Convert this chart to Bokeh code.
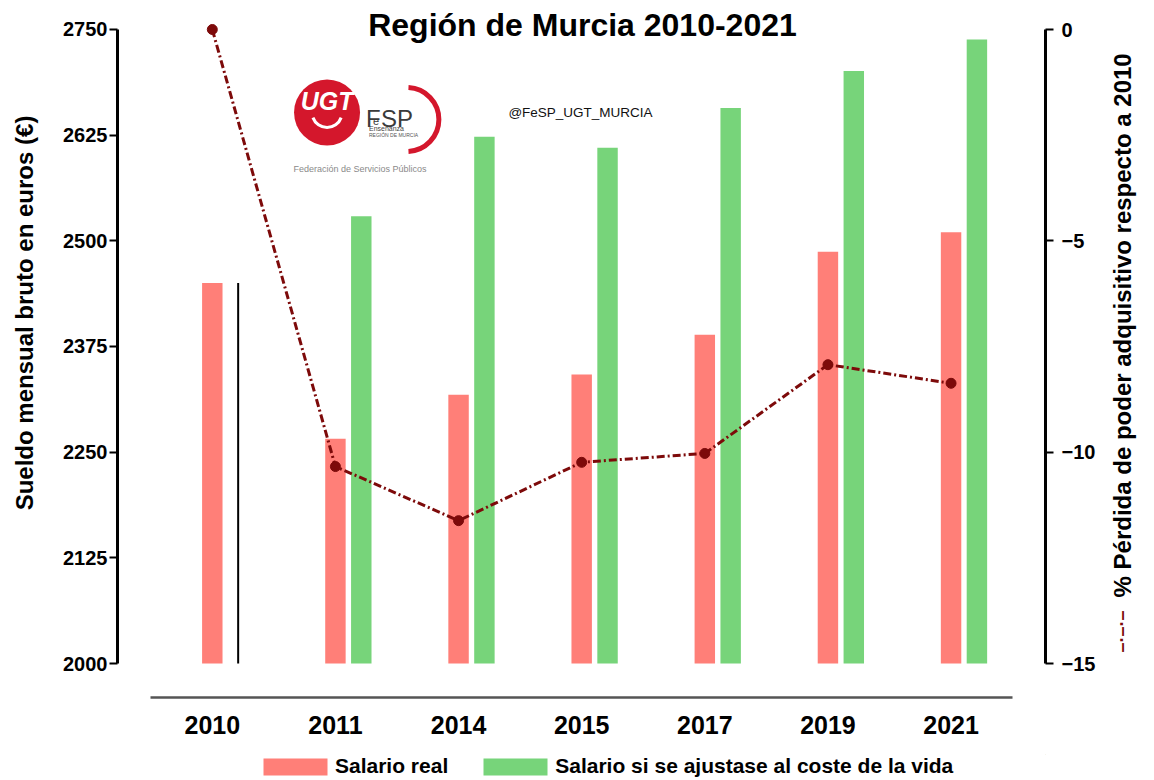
import math
from bokeh.plotting import figure
from bokeh.layouts import column
from bokeh.models import Range1d, LinearAxis, FixedTicker, Legend, LegendItem, Label
from bokeh.embed import file_html
from bokeh.resources import INLINE

# ---------------- data ----------------
years = ["2010", "2011", "2014", "2015", "2017", "2019", "2021"]
salario_real = [2450, 2266, 2318, 2342, 2389, 2487, 2510]
salario_ajustado = [2450, 2529, 2623, 2610, 2657, 2701, 2738]
perdida_pct = [0.0, -10.34, -11.62, -10.24, -10.03, -7.93, -8.37]
left_ticks = [2000, 2125, 2250, 2375, 2500, 2625, 2750]
right_ticks = [-15, -10, -5, 0]
legend_labels = ["Salario real", "Salario si se ajustase al coste de la vida"]
right_title = "% Pérdida de poder adquisitivo respecto a 2010"

# ---------------- style ----------------
RED_BAR = "#ff7f78"
GREEN_BAR = "#77d47a"
LINE_RED = "#7d0a0a"
LOGO_RED = "#d4172c"
FONT = "Liberation Sans"
NB = "\u00a0"

idx = list(range(len(years)))
green_off = 0.21
bar_w = 0.166

X0, X1 = -0.770, 6.767
Y0, Y1 = 1959.8, 2774.8
R0, R1 = -15.804, 0.497

W = 1152
H_MAIN = 754
H_LEG = 24

# frame in picture pixels (for placing decorations)
FL, FR, FT, FB = 117, 1047, 8, 697


def xd(px):
    return X0 + (px - FL) / (FR - FL) * (X1 - X0)


def yd(py):
    return Y1 - (py - FT) / (FB - FT) * (Y1 - Y0)


p = figure(width=W, height=H_MAIN, x_range=Range1d(X0, X1), y_range=Range1d(Y0, Y1),
           output_backend="svg", toolbar_location=None, title=None,
           min_border_left=FL, min_border_right=W - FR, min_border_top=FT,
           min_border_bottom=H_MAIN - FB)
p.outline_line_color = None
p.xgrid.visible = False
p.ygrid.visible = False
p.background_fill_color = "white"
p.border_fill_color = "white"

# x axis
xa = p.xaxis[0]
xa.ticker = FixedTicker(ticks=idx)
xa.major_label_overrides = {i: y for i, y in zip(idx, years)}
xa.bounds = (-0.5, 6.5)
xa.axis_line_color = "#555555"
xa.axis_line_width = 2.5
xa.major_tick_line_color = None
xa.minor_tick_line_color = None
xa.major_label_text_font = FONT
xa.major_label_text_font_style = "bold"
xa.major_label_text_font_size = "25px"
xa.major_label_text_color = "black"
xa.major_label_standoff = 12

# left axis
ya = p.yaxis[0]
ya.ticker = FixedTicker(ticks=left_ticks)
ya.bounds = (2000, 2750)
ya.axis_line_width = 3
ya.axis_line_color = "black"
ya.major_tick_out = 8
ya.major_tick_in = 0
ya.major_tick_line_width = 2
ya.minor_tick_line_color = None
ya.major_label_text_font = FONT
ya.major_label_text_font_style = "bold"
ya.major_label_text_font_size = "20px"
ya.major_label_text_color = "black"
ya.major_label_standoff = 2
ya.axis_label = NB * 12 + "Sueldo mensual bruto en euros (€)"
ya.axis_label_text_font = FONT
ya.axis_label_text_font_style = "bold"
ya.axis_label_text_font_size = "24px"
ya.axis_label_text_color = "black"
ya.axis_label_standoff = 22

# right axis
p.extra_y_ranges = {"pct": Range1d(R0, R1)}
ra = LinearAxis(y_range_name="pct", ticker=FixedTicker(ticks=right_ticks), bounds=(-15, 0))
ra.axis_line_width = 3
ra.axis_line_color = "black"
ra.major_tick_out = 8
ra.major_tick_in = 0
ra.major_tick_line_width = 2
ra.minor_tick_line_color = None
ra.major_label_text_font = FONT
ra.major_label_text_font_style = "bold"
ra.major_label_text_font_size = "20px"
ra.major_label_text_color = "black"
ra.major_label_standoff = 8
ra.axis_label_text_font = FONT
ra.axis_label_text_font_style = "bold"
ra.axis_label_text_font_size = "24px"
ra.axis_label_text_color = "black"
ra.axis_label_standoff = 24

# series marker shown next to the right axis title (label of an empty axis)
ma = LinearAxis(y_range_name="pct", ticker=FixedTicker(ticks=[]))
ma.axis_line_color = None
ma.major_tick_line_color = None
ma.minor_tick_line_color = None
ma.axis_label_text_font = FONT
ma.axis_label_text_font_style = "bold"
ma.axis_label_text_font_size = "18px"
ma.axis_label_text_color = LINE_RED
ma.axis_label_standoff = -31

try:
    ra.axis_label_align = "start"
    ra.axis_label_orientation = math.pi / 2
    ra.axis_label = NB * 15 + right_title
    ma.axis_label_align = "start"
    ma.axis_label_orientation = math.pi / 2
    ma.axis_label = NB * 9 + "–·–·–"
except Exception:
    ra.axis_label = right_title + NB * 10
    ma.axis_label = NB * 111 + "–·–·–"

p.add_layout(ra, "right")
p.add_layout(ma, "right")

# bars
r_real = p.vbar(x=idx, top=salario_real, bottom=2000, width=bar_w,
                fill_color=RED_BAR, line_color=None)
gx = [i + green_off for i in idx[1:]]
r_adj = p.vbar(x=gx, top=salario_ajustado[1:], bottom=2000, width=bar_w,
               fill_color=GREEN_BAR, line_color=None)
# 2010: adjusted equals real, drawn as a thin line
p.segment(x0=[idx[0] + green_off], x1=[idx[0] + green_off], y0=[2000], y1=[salario_ajustado[0]],
          line_color="black", line_width=2)

# line on right axis
p.line(x=idx, y=perdida_pct, y_range_name="pct", line_color=LINE_RED, line_width=3,
       line_dash="8 3 2 3")
p.scatter(x=idx, y=perdida_pct, y_range_name="pct", marker="circle", size=10,
          fill_color=LINE_RED, line_color=LINE_RED)

# title
p.add_layout(Label(x=xd(583), y=yd(24), text="Región de Murcia 2010-2021", text_align="center",
                   text_baseline="middle", text_font=FONT, text_font_style="bold",
                   text_font_size="32px", text_color="black"))

# handle
p.add_layout(Label(x=xd(581), y=yd(112), text="@FeSP_UGT_MURCIA", text_align="center",
                   text_baseline="middle", text_font=FONT, text_font_size="13.5px",
                   text_color="#111111"))

# logo
p.scatter(x=[xd(327)], y=[yd(112)], marker="circle", size=66, fill_color=LOGO_RED, line_color=None)
p.add_layout(Label(x=xd(327), y=yd(100), text="UGT", text_align="center", text_baseline="middle",
                   text_font=FONT, text_font_style="bold italic", text_font_size="25px",
                   text_color="white"))
p.arc(x=[xd(327)], y=[yd(112)], radius=15, radius_units="screen",
      start_angle=math.radians(200), end_angle=math.radians(340), line_color="white", line_width=3)
p.arc(x=[xd(407)], y=[yd(119)], radius=32, radius_units="screen",
      start_angle=-math.pi / 2 + 0.05, end_angle=math.pi / 2 - 0.05, line_color=LOGO_RED, line_width=5)
p.add_layout(Label(x=xd(366), y=yd(118), text="F", text_align="left", text_baseline="alphabetic",
                   text_font=FONT, text_font_size="24px", text_color="#3a3a3a"))
p.add_layout(Label(x=xd(373), y=yd(120), text="e", text_align="left", text_baseline="alphabetic",
                   text_font=FONT, text_font_size="11px", text_color="#3a3a3a"))
p.add_layout(Label(x=xd(381), y=yd(118), text="SP", text_align="left", text_baseline="alphabetic",
                   text_font=FONT, text_font_size="24px", text_color="#3a3a3a"))
p.add_layout(Label(x=xd(369), y=yd(127.5), text="Enseñanza", text_align="left", text_baseline="alphabetic",
                   text_font=FONT, text_font_size="7px", text_color="#444444"))
p.add_layout(Label(x=xd(369), y=yd(134), text="REGIÓN DE MURCIA", text_align="left",
                   text_baseline="alphabetic", text_font=FONT, text_font_size="5px",
                   text_color="#555555"))
p.add_layout(Label(x=xd(360), y=yd(168), text="Federación de Servicios Públicos", text_align="center",
                   text_baseline="middle", text_font=FONT, text_font_size="9px",
                   text_color="#8a8a8a"))

# ---------------- legend strip ----------------
lf = figure(width=W, height=H_LEG, x_range=Range1d(0, 1), y_range=Range1d(0, 1),
            output_backend="svg", toolbar_location=None, title=None,
            x_axis_type=None, y_axis_type=None,
            min_border_left=0, min_border_right=0, min_border_top=0, min_border_bottom=0)
lf.outline_line_color = None
lf.xgrid.visible = False
lf.ygrid.visible = False
# swatch renderers kept outside the visible range (only their legend glyphs show)
lg1 = lf.vbar(x=[5], top=[6], bottom=5, width=0.1, fill_color=RED_BAR, line_color=None)
lg2 = lf.vbar(x=[5], top=[6], bottom=5, width=0.1, fill_color=GREEN_BAR, line_color=None)
legend = Legend(items=[LegendItem(label=legend_labels[0], renderers=[lg1]),
                       LegendItem(label=legend_labels[1], renderers=[lg2])],
                orientation="horizontal", location=(138, 0), glyph_width=80, glyph_height=21,
                label_standoff=0, spacing=27, padding=0, margin=0, border_line_color=None,
                background_fill_alpha=0, label_text_font=FONT, label_text_font_style="bold",
                label_text_font_size="21px", label_text_color="black")
lf.add_layout(legend, "center")

layout = column(p, lf, spacing=0)
open("out.html", "w").write(file_html(layout, INLINE))
